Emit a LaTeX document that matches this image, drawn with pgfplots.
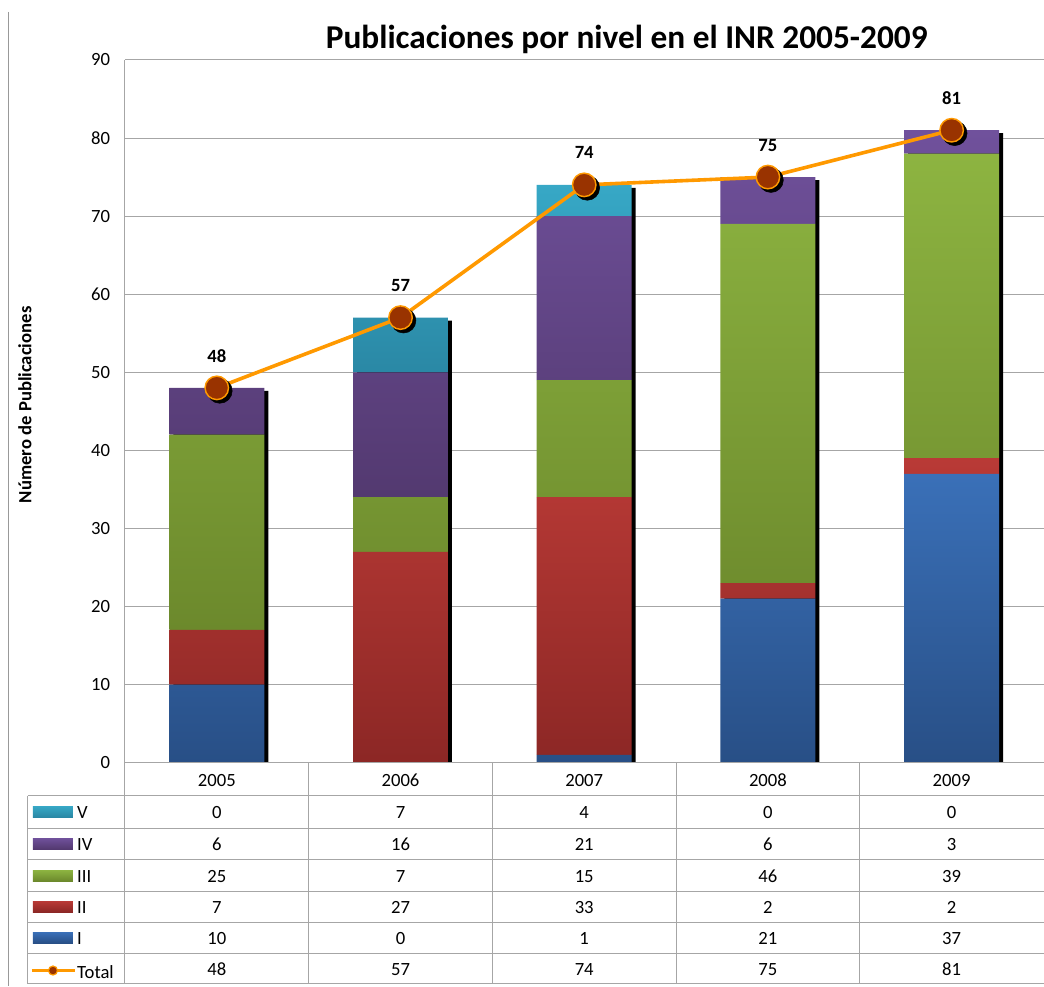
\documentclass[border=0pt]{standalone}
\usepackage{fontspec}
\setmainfont{Carlito}
\usepackage{pgfplots}
\pgfplotsset{compat=1.18}
\usepackage{pgfplotstable}

\definecolor{VT}{HTML}{37A8C6}\definecolor{VB}{HTML}{2A88A5}
\definecolor{IVT}{HTML}{70519C}\definecolor{IVB}{HTML}{533970}
\definecolor{IIIT}{HTML}{8DB441}\definecolor{IIIB}{HTML}{6C892C}
\definecolor{IIT}{HTML}{B93A36}\definecolor{IIB}{HTML}{8C2725}
\definecolor{IT}{HTML}{3A70B8}\definecolor{IB}{HTML}{284F86}
\definecolor{lineor}{HTML}{FF9900}
\definecolor{markred}{HTML}{993300}
\definecolor{tblgray}{HTML}{A6A6A6}

\newcommand\fs{\fontsize{14}{17}\selectfont}

\pgfplotstableread{
x I II III IV V Total
0 10 7 25 6 0 48
1 0 27 7 16 7 57
2 1 33 15 21 4 74
3 21 2 46 6 0 75
4 37 2 39 3 0 81
}\data

\pgfplotsset{base/.style={at={(93.75pt,167.25pt)}, anchor=south west,
  scale only axis, width=689.25pt, height=527.25pt,
  xmin=-0.5, xmax=4.5, ymin=0, ymax=90,
  /pgf/number format/assume math mode=true}}

\begin{document}
\begin{tikzpicture}
\path (0,0) rectangle (783pt,739.5pt);
% axis 1: grid + shadows
\begin{axis}[base, axis line style={draw=none}, ytick={0,10,...,90}, xtick=\empty,
  ymajorgrids, grid style={tblgray, line width=0.75pt}, major tick length=0pt,
  yticklabel style={font=\fs, anchor=east, inner sep=0pt, xshift=-11pt}]
\addplot[ybar, bar width=71.25pt, bar shift=3pt, fill=black, draw=none, yshift=-2.25pt]
  table[x=x,y=Total]{\data};
\end{axis}
% axis 2: stacked bars
\begin{axis}[base, axis lines=none, ybar stacked, bar width=71.25pt]
\addplot[draw=none, top color=IT, bottom color=IB] table[x=x,y=I]{\data};
\addplot[draw=none, top color=IIT, bottom color=IIB] table[x=x,y=II]{\data};
\addplot[draw=none, top color=IIIT, bottom color=IIIB] table[x=x,y=III]{\data};
\addplot[draw=none, top color=IVT, bottom color=IVB] table[x=x,y=IV]{\data};
\addplot[draw=none, top color=VT, bottom color=VB] table[x=x,y=V]{\data};
\end{axis}
% axis 3: total line
\begin{axis}[base, axis lines=none, clip=false]
\addplot[lineor, line width=2.7pt, no markers] table[x=x,y=Total]{\data};
\addplot[only marks, mark=*, mark size=9.3pt, mark options={fill=black, draw=none}, xshift=2.25pt, yshift=-2.25pt]
  table[x=x,y=Total]{\data};
\addplot[only marks, mark=*, mark size=8.8pt, mark options={fill=markred, draw=lineor, line width=1.1pt},
  nodes near coords, nodes near coords style={font=\fs\bfseries, anchor=center, yshift=24pt, text=black}]
  table[x=x,y=Total]{\data};
\end{axis}
% table and texts
\begin{scope}[x=0.75pt,y=-0.75pt,yshift=739.5pt]
\draw[gray!80, line width=0.75pt] (8.5,12) -- (8.5,986);
\draw[tblgray, line width=0.75pt] (125,763) -- (1044,763);
\foreach \y in {796,829,860,892,923,954,984} \draw[tblgray, line width=0.75pt] (28,\y) -- (1044,\y);
\draw[tblgray, line width=0.75pt] (28,796) -- (28,984);
\draw[tblgray, line width=0.75pt] (125,60) -- (125,984);
\foreach \xx in {308.8,492.6,676.4,860.2} \draw[tblgray, line width=0.75pt] (\xx,763) -- (\xx,984);
% years
\foreach \yr [count=\i from 0] in {2005,2006,2007,2008,2009}
  \node[font=\fs] at ({125+183.8*(\i+0.5)},781) {\yr};
% rows
\def\rowvals#1#2{\foreach \v [count=\i from 0] in {#2} \node[font=\fs] at ({125+183.8*(\i+0.5)},#1) {\v};}
\rowvals{813}{0,7,4,0,0}
\rowvals{845}{6,16,21,6,3}
\rowvals{877}{25,7,15,46,39}
\rowvals{908}{7,27,33,2,2}
\rowvals{939}{10,0,1,21,37}
\rowvals{970}{48,57,74,75,81}
% legend icons
\def\legbar#1#2#3#4{\shade[top color=#2, bottom color=#3] (33,#1-5.5) rectangle (73,#1+5.5);
  \node[font=\fs, anchor=west, inner sep=0pt] at (77,#1+1) {#4};}
\legbar{812}{VT}{VB}{V}
\legbar{844}{IVT}{IVB}{IV}
\legbar{876}{IIIT}{IIIB}{III}
\legbar{907}{IIT}{IIB}{II}
\legbar{938}{IT}{IB}{I}
\draw[lineor, line width=2.7pt] (32,971) -- (75,971);
\fill[markred, draw=lineor, line width=0.9pt] (53,971) circle (4.5);
\node[font=\fs, anchor=west, inner sep=0pt] at (77,973) {Total};
% title and y label
\node[font=\fontsize{25}{30}\selectfont\bfseries, anchor=base] at (627,49) {Publicaciones por nivel en el INR 2005-2009};
\node[font=\fs\bfseries, rotate=90] at (25,405) {Número de Publicaciones};
\end{scope}
\end{tikzpicture}
\end{document}
